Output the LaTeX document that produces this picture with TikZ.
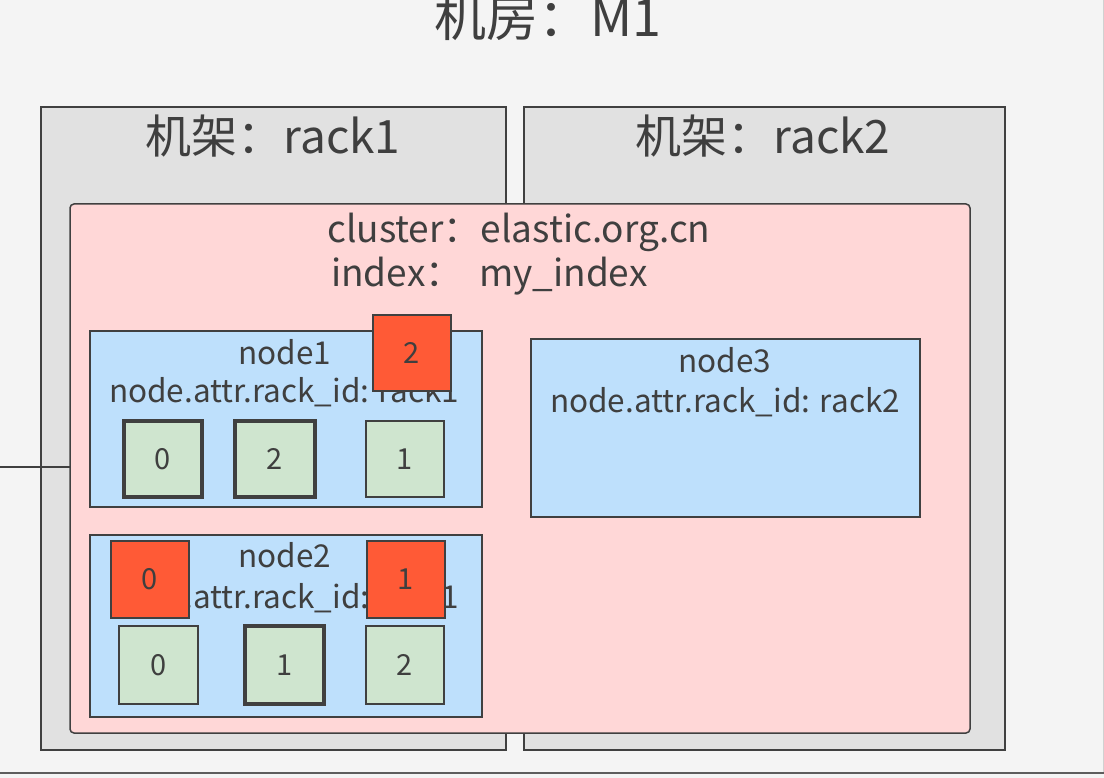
\documentclass[tikz,border=0pt]{standalone}
\usepackage{fontspec}
\setmainfont{Noto Sans CJK SC}
\definecolor{bgc}{HTML}{F4F4F4}
\definecolor{edgec}{HTML}{404040}
\definecolor{rackc}{HTML}{E1E1E1}
\definecolor{clusterc}{HTML}{FFD7D7}
\definecolor{nodec}{HTML}{BEE0FC}
\definecolor{shardc}{HTML}{CFE5CF}
\definecolor{redc}{HTML}{FF5A36}
\definecolor{txtc}{HTML}{3F3F3F}
\begin{document}
\begin{tikzpicture}[x=1pt,y=-1pt,
  box/.style={draw=edgec, line width=1.5pt, anchor=north west, inner sep=0pt, outer sep=0pt},
  rackbox/.style={box, fill=rackc},
  clusterbox/.style={box, fill=clusterc, rounded corners=4pt},
  nodebox/.style={box, fill=nodec},
  shard/.style={box, fill=shardc, text=txtc, font=\fontsize{29}{29}\selectfont},
  primary/.style={shard, line width=3.2pt},
  moving/.style={box, fill=redc, text=txtc, font=\fontsize{29}{29}\selectfont},
  lbl/.style={text=txtc, inner sep=0pt},
  titlel/.style={lbl, font=\fontsize{52}{52}\selectfont},
  bigl/.style={lbl, font=\fontsize{46}{46}\selectfont},
  midl/.style={lbl, font=\fontsize{37}{37}\selectfont},
  smalll/.style={lbl, font=\fontsize{31.5}{31.5}\selectfont}]
\useasboundingbox (0,0) rectangle (1104,778);
\fill[bgc] (0,0) rectangle (1104,778);
\coordinate (bl) at (0,773);
\coordinate (br) at (1104,773);
\coordinate (rt) at (1103,0);
\coordinate (rb) at (1103,772);
\draw[edgec!85, line width=2pt] (bl) -- (br);
\draw[black!18, line width=1pt] (rt) -- (rb);
% title
\node[titlel, anchor=base] (title) at (548,37) {机房：M1};
% racks
\node[rackbox, minimum width=465pt, minimum height=643pt] (rack1) at (41,107) {};
\node[rackbox, minimum width=481pt, minimum height=643pt] (rack2) at (524,107) {};
\node[bigl, anchor=base] (rack1l) at (273,154) {机架：rack1};
\node[bigl, anchor=base] (rack2l) at (763,154) {机架：rack2};
% cluster
\node[clusterbox, minimum width=900pt, minimum height=529pt] (cluster) at (70,204) {};
\coordinate (lstart) at (0,467);
\draw[edgec, line width=1.5pt] (lstart) -- (lstart -| cluster.west);
\node[midl, anchor=base west] (cl1) at (327,243) {cluster：elastic.org.cn};
\node[midl, anchor=base west] (cl2) at (331,287) {index：\ \ my\_index};
% nodes
\node[nodebox, minimum width=392pt, minimum height=176pt] (n1) at (90,331) {};
\node[nodebox, minimum width=392pt, minimum height=182pt] (n2) at (90,535) {};
\node[nodebox, minimum width=389pt, minimum height=178pt] (n3) at (531,339) {};
\node[smalll, anchor=base] (n1a) at (285,364) {node1};
\node[smalll, anchor=base] (n1b) at (284,402) {node.attr.rack\_id: rack1};
\node[smalll, anchor=base] (n2a) at (285,567) {node2};
\node[smalll, anchor=base] (n2b) at (284,608) {node.attr.rack\_id: rack1};
\node[smalll, anchor=base] (n3a) at (725,372) {node3};
\node[smalll, anchor=base] (n3b) at (725,412) {node.attr.rack\_id: rack2};
% shards node1
\node[primary, minimum width=78pt, minimum height=76pt] (s10) at (124,421) {0};
\node[primary, minimum width=80pt, minimum height=76pt] (s12) at (235,421) {2};
\node[shard, minimum width=78pt, minimum height=76pt] (s11) at (366,421) {1};
% shards node2
\node[shard, minimum width=79pt, minimum height=78pt] (s20) at (119,626) {0};
\node[primary, minimum width=79pt, minimum height=78pt] (s21) at (245,626) {1};
\node[shard, minimum width=78pt, minimum height=78pt] (s22) at (366,626) {2};
% moving shards
\node[moving, minimum width=78pt, minimum height=76pt] (m2) at (373,315) {2};
\node[moving, minimum width=78pt, minimum height=77pt] (m0) at (111,541) {0};
\node[moving, minimum width=78pt, minimum height=77pt] (m1) at (367,541) {1};
\end{tikzpicture}
\end{document}
